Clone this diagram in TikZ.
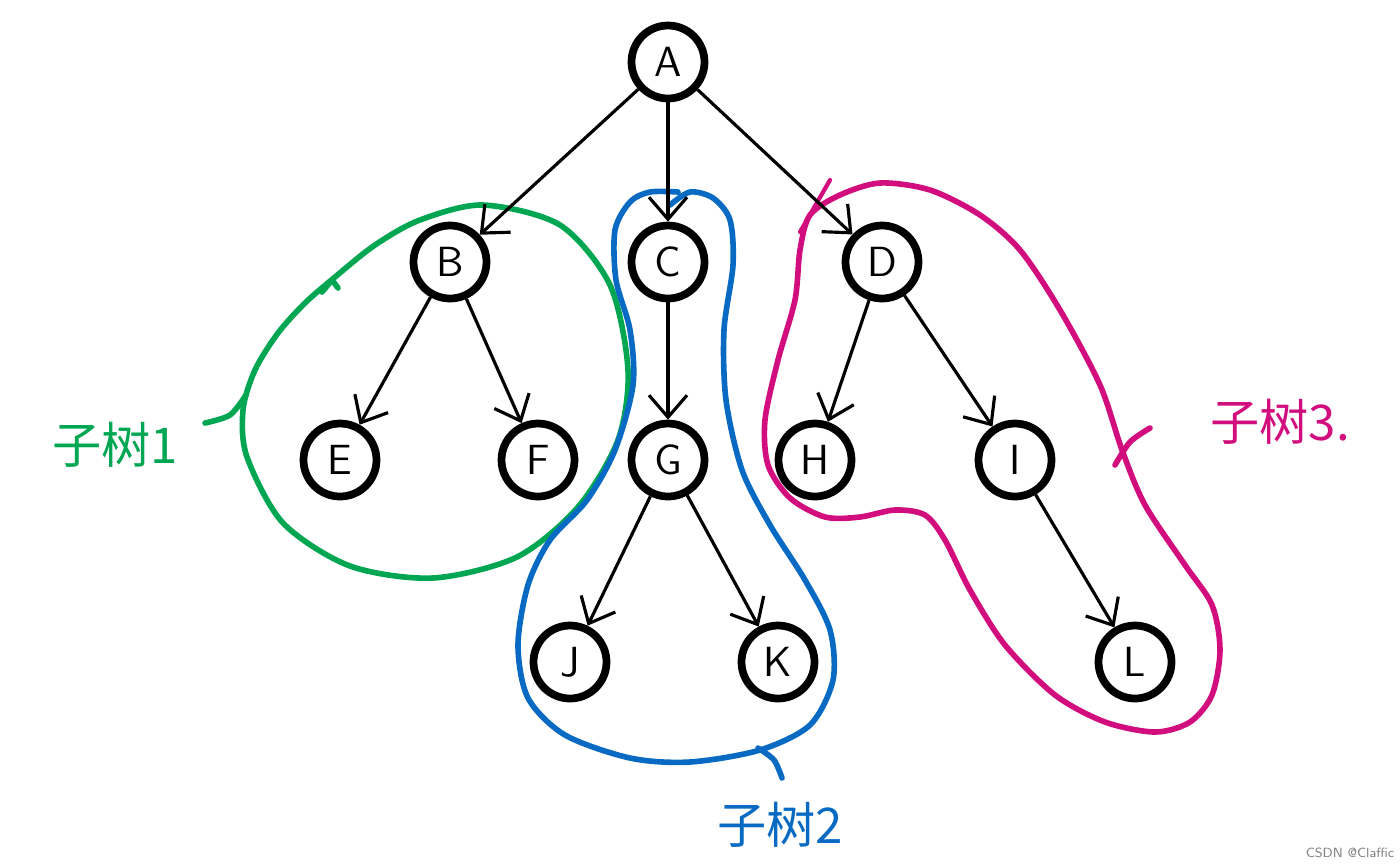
\documentclass[tikz,border=0pt]{standalone}
\usepackage{fontspec}
\newfontfamily\cjk{Noto Sans CJK SC}
\usetikzlibrary{arrows.meta, positioning}
\definecolor{subgreen}{RGB}{0,166,81}
\definecolor{subblue}{RGB}{8,106,194}
\definecolor{submagenta}{RGB}{210,14,126}

\begin{document}
\begin{tikzpicture}[
  font=\sffamily\large,
  %% --- styles ---
  vertex/.style={circle, draw=black, fill=white, line width=2.2pt,
    minimum size=7.3mm, inner sep=0pt},
  edge/.style={-{Straight Barb[length=2.2mm, width=3.8mm]}, line width=0.9pt},
  hull/.style={line width=1.6pt, line cap=round, line join=round},
  tag/.style={font=\cjk\fontsize{14}{16}\selectfont}
]
  \useasboundingbox (0,0) rectangle (14,-8.65);

  %% --- subtree outlines ---
  % subtree 1
  \draw[hull, subgreen] plot[smooth cycle] coordinates {
    (4.83,-2.05) (5.60,-2.25) (6.10,-2.85) (6.28,-3.70) (6.18,-4.40)
    (5.78,-5.07) (5.17,-5.57) (4.33,-5.78) (3.50,-5.66) (2.83,-5.23)
    (2.47,-4.57) (2.43,-4.10) (2.55,-3.70) (2.78,-3.33) (3.05,-3.03)
    (3.35,-2.77) (3.75,-2.45) (4.20,-2.20)};
  \draw[hull, subgreen] plot[smooth] coordinates {(2.05,-4.23) (2.30,-4.15) (2.46,-3.95)};
  \draw[hull, subgreen] (3.22,-2.92) -- (3.32,-2.80) -- (3.38,-2.88);
  % subtree 2
  \draw[hull, subblue] plot[smooth] coordinates {
    (6.70,-2.05) (6.90,-1.92) (7.13,-1.98) (7.30,-2.20) (7.33,-2.65)
    (7.24,-3.30) (7.26,-4.00) (7.42,-4.70) (7.70,-5.25) (8.05,-5.80)
    (8.30,-6.30) (8.33,-6.80) (8.10,-7.25) (7.60,-7.50) (6.90,-7.62)
    (6.30,-7.58) (5.65,-7.35) (5.28,-6.98) (5.18,-6.45) (5.28,-5.85)
    (5.50,-5.40) (5.87,-5.00) (6.15,-4.50) (6.33,-3.85) (6.30,-3.30)
    (6.16,-2.80) (6.15,-2.30) (6.30,-2.02) (6.50,-1.92) (6.78,-1.92)};
  \draw[hull, subblue] plot[smooth] coordinates {(7.58,-7.48) (7.74,-7.60) (7.82,-7.78)};
  % subtree 3
  \draw[hull, submagenta] plot[smooth cycle] coordinates {
    (8.40,-1.95) (8.80,-1.83) (9.30,-1.90) (9.80,-2.15) (10.20,-2.50)
    (10.60,-3.10) (11.00,-3.85) (11.22,-4.50) (11.45,-5.05) (11.85,-5.65)
    (12.12,-6.05) (12.20,-6.50) (12.12,-6.95) (11.90,-7.22) (11.55,-7.32)
    (11.05,-7.22) (10.55,-6.95) (10.05,-6.45) (9.70,-5.90) (9.45,-5.40)
    (9.25,-5.15) (8.95,-5.10) (8.60,-5.17) (8.25,-5.17) (7.90,-4.98)
    (7.68,-4.65) (7.65,-4.20) (7.78,-3.60) (7.95,-3.00) (8.00,-2.50) (8.10,-2.15)};
  \draw[hull, submagenta, line width=1.2pt] (8.00,-2.32) -- (8.30,-1.80);
  \draw[hull, submagenta] plot[smooth] coordinates {(11.15,-4.65) (11.30,-4.42) (11.50,-4.28)};

  %% --- nodes ---
  \node[vertex] (A) at (6.68,-0.62) {A};
  \node[vertex] (B) at (4.50,-2.62) {B};
  \node[vertex] (C) at (6.68,-2.62) {C};
  \node[vertex] (D) at (8.82,-2.62) {D};
  \node[vertex] (E) at (3.40,-4.60) {E};
  \node[vertex] (F) at (5.38,-4.60) {F};
  \node[vertex] (G) at (6.68,-4.60) {G};
  \node[vertex] (H) at (8.15,-4.60) {H};
  \node[vertex] (I) at (10.15,-4.60) {I};
  \node[vertex] (J) at (5.70,-6.62) {J};
  \node[vertex] (K) at (7.78,-6.62) {K};
  \node[vertex] (L) at (11.35,-6.62) {L};

  %% --- edges ---
  \draw[edge] (A) -- (B);
  \draw[edge] (A) -- (C);
  \draw[edge] (A) -- (D);
  \draw[edge] (B) -- (E);
  \draw[edge] (B) -- (F);
  \draw[edge] (C) -- (G);
  \draw[edge] (D) -- (H);
  \draw[edge] (D) -- (I);
  \draw[edge] (G) -- (J);
  \draw[edge] (G) -- (K);
  \draw[edge] (I) -- (L);

  %% --- labels ---
  \node[tag, subgreen] (tag1) at (1.15,-4.45) {子树1};
  \node[tag, subblue] (tag2) at (7.80,-8.25) {子树2};
  \node[tag, submagenta] (tag3) at (12.80,-4.22) {子树3.};
  \node[font=\sffamily\fontsize{3.8}{4}\selectfont, gray] (mark) at (13.50,-8.53) {CSDN @Claffic};
\end{tikzpicture}
\end{document}
